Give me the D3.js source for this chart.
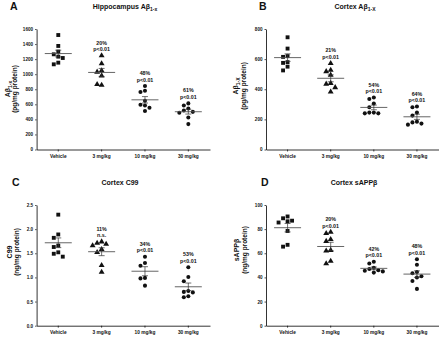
<!DOCTYPE html>
<html><head><meta charset="utf-8">
<script src="https://cdn.jsdelivr.net/npm/d3@7"></script>
<style>body{margin:0;background:#fff}svg{display:block}text{font-family:"Liberation Sans",Arial,sans-serif;font-weight:bold;fill:#111}</style>
</head><body>
<svg id="chart" width="440" height="337"></svg>
<script>
const categories = ["Vehicle", "3 mg/kg", "10 mg/kg", "30 mg/kg"];

const hippoAbeta = [
  [1520, 1375, 1300, 1264, 1233, 1215, 1153, 1131],
  [1246, 1140, 1047, 1029, 980, 856, 865],
  [843, 781, 763, 648, 585, 594, 554, 510],
  [612, 585, 545, 519, 500, 488, 426, 337]
];
const cortexAbeta = [
  [745, 670, 620, 615, 580, 575, 550, 525],
  [572, 527, 518, 495, 440, 435, 412, 383],
  [345, 335, 305, 280, 245, 245, 240, 240],
  [285, 280, 245, 225, 185, 180, 172, 165]
];
const cortexC99 = [
  [2.30, 1.89, 1.82, 1.66, 1.63, 1.52, 1.49, 1.43],
  [1.74, 1.71, 1.69, 1.66, 1.58, 1.52, 1.25, 1.11],
  [1.43, 1.30, 1.24, 0.99, 0.98, 0.83],
  [1.21, 1.01, 0.92, 0.72, 0.70, 0.69, 0.61, 0.59]
];
const cortexSAPPb = [
  [90.5, 89, 87, 86.5, 85.5, 78.5, 67, 65.5],
  [77.5, 76.5, 71.5, 70, 62.5, 62, 53.5, 51.5],
  [53, 51.5, 48, 47, 46, 45.5, 45, 44],
  [55, 50.5, 44.5, 43.5, 41, 40, 37, 30.5]
];

const panelLetters = ["A", "B", "C", "D"];
const titleMain = ["Hippocampus A\u03B2", "Cortex A\u03B2", "Cortex C99", "Cortex sAPP\u03B2"];
const titleSub = ["1-x", "1-X", "", ""];
const yLabelMain = ["A\u03B2", "A\u03B2", "C99", "sAPP\u03B2"];
const yLabelSub = ["1-x", "1-X", "", ""];
const yLabelUnit = ["(pg/mg protein)", "(pg/mg protein)", "(ng/mg protein)", "(ng/mg protein)"];
const yTicksA = [0, 200, 400, 600, 800, 1000, 1200, 1400, 1600];
const yTicksB = [0, 200, 400, 600, 800];
const yTicksC = [0, 0.5, 1.0, 1.5, 2.0, 2.5];
const yTicksD = [0, 20, 40, 60, 80, 100];
const pctA = ["", "20%", "48%", "61%"];
const pctB = ["", "21%", "54%", "64%"];
const pctC = ["", "11%", "34%", "53%"];
const pctD = ["", "20%", "42%", "48%"];
const sigA = ["", "p<0.01", "p<0.01", "p<0.01"];
const sigB = ["", "p<0.01", "p<0.01", "p<0.01"];
const sigC = ["", "n.s.", "p<0.01", "p<0.01"];
const sigD = ["", "p<0.01", "p<0.01", "p<0.01"];

const svg = d3.select("#chart");

const panels = [
  {data: hippoAbeta, ticks: yTicksA, fmt: d3.format("d"), pct: pctA, sig: sigA, box: {l: 36.6, r: 210, t: 29, b: 149.5}, lx: 10, ly: 10, tx: 125, ylx: 9.5, yly: 89},
  {data: cortexAbeta, ticks: yTicksB, fmt: d3.format("d"), pct: pctB, sig: sigB, box: {l: 266, r: 438.5, t: 29, b: 149.5}, lx: 259, ly: 10, tx: 355, ylx: 238, yly: 86},
  {data: cortexC99, ticks: yTicksC, fmt: d3.format(".1f"), pct: pctC, sig: sigC, box: {l: 36.6, r: 210, t: 205, b: 325.7}, lx: 12, ly: 186, tx: 120, ylx: 11.5, yly: 252},
  {data: cortexSAPPb, ticks: yTicksD, fmt: d3.format("d"), pct: pctD, sig: sigD, box: {l: 266, r: 438.5, t: 205, b: 325.7}, lx: 261, ly: 186, tx: 354, ylx: 239, yly: 250}
];

const shapes = [d3.symbolSquare, d3.symbolTriangle, d3.symbolCircle, d3.symbolCircle];
const sizes = [15, 15, 13, 13];

panels.forEach((p, i) => {
  const g = svg.append("g");
  const x = d3.scaleBand().domain(categories).range([p.box.l, p.box.r]);
  const y = d3.scaleLinear().domain([p.ticks[0], p.ticks[p.ticks.length - 1]]).range([p.box.b, p.box.t]);

  g.append("text").attr("x", p.lx).attr("y", p.ly).attr("font-size", 10.5).text(panelLetters[i]);
  const t = g.append("text").attr("x", p.tx).attr("y", p.ly - 1).attr("font-size", 7).attr("text-anchor", "middle");
  t.append("tspan").text(titleMain[i]);
  if (titleSub[i]) t.append("tspan").attr("font-size", 5).attr("dy", 2).text(titleSub[i]);

  const yl = g.append("g").attr("transform", `translate(${p.ylx},${p.yly}) rotate(-90)`);
  const t1 = yl.append("text").attr("text-anchor", "middle").attr("font-size", 7).attr("y", 0);
  t1.append("tspan").text(yLabelMain[i]);
  if (yLabelSub[i]) t1.append("tspan").attr("font-size", 5).attr("dy", 2).text(yLabelSub[i]);
  yl.append("text").attr("text-anchor", "middle").attr("font-size", 6.5).attr("y", 7.5).text(yLabelUnit[i]);

  const ya = g.append("g").attr("transform", `translate(${p.box.l},0)`)
    .call(d3.axisLeft(y).tickValues(p.ticks).tickFormat(p.fmt).tickSize(1.5).tickPadding(2).tickSizeOuter(0));
  ya.selectAll("text").attr("font-size", 4.6).style("font-family", "Liberation Sans, Arial").style("font-weight", "bold");
  const xa = g.append("g").attr("transform", `translate(0,${p.box.b})`)
    .call(d3.axisBottom(x).tickSize(2).tickPadding(3).tickSizeOuter(0));
  xa.selectAll("text").attr("font-size", 4.8).style("font-family", "Liberation Sans, Arial").style("font-weight", "bold");
  g.selectAll(".domain").attr("stroke", "#000").attr("stroke-width", 0.8);
  g.selectAll(".tick line").attr("stroke", "#000").attr("stroke-width", 0.7);

  p.data.forEach((vals, ci) => {
    const cx = x(categories[ci]) + x.bandwidth() / 2;
    const placed = [];
    const d = 4.5;
    const cands = [0, -d, d, -2 * d, 2 * d];
    vals.forEach(v => {
      const py = y(v);
      let off = cands.find(o => placed.every(q => Math.hypot(q.x - (cx + o), q.y - py) >= 4.4));
      if (off === undefined) off = 0;
      placed.push({x: cx + off, y: py});
    });
    const sym = d3.symbol().type(shapes[ci]).size(sizes[ci]);
    g.selectAll(null).data(placed).join("path")
      .attr("transform", q => `translate(${q.x},${q.y})`)
      .attr("d", sym).attr("fill", "#111");

    const mean = d3.mean(vals);
    const sem = d3.deviation(vals) / Math.sqrt(vals.length);
    g.append("line").attr("x1", cx - 13.5).attr("x2", cx + 13.5).attr("y1", y(mean)).attr("y2", y(mean))
      .attr("stroke", "#555").attr("stroke-width", 0.9);
    g.append("line").attr("x1", cx).attr("x2", cx).attr("y1", y(mean - sem)).attr("y2", y(mean + sem))
      .attr("stroke", "#333").attr("stroke-width", 0.7);
    [mean - sem, mean + sem].forEach(e => g.append("line").attr("x1", cx - 3).attr("x2", cx + 3).attr("y1", y(e)).attr("y2", y(e))
      .attr("stroke", "#333").attr("stroke-width", 0.7));

    if (p.pct[ci]) {
      const top = y(d3.max(vals));
      g.append("text").attr("x", cx).attr("y", top - 4.5).attr("text-anchor", "middle").attr("font-size", 5.3).text(p.sig[ci]);
      g.append("text").attr("x", cx).attr("y", top - 11).attr("text-anchor", "middle").attr("font-size", 5.3).text(p.pct[ci]);
    }
  });
});
</script>
</body></html>
